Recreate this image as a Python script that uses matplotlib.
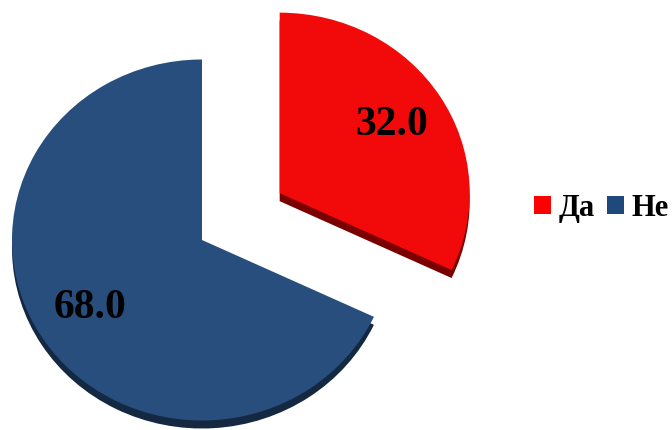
import matplotlib.pyplot as plt
from matplotlib.patches import Patch

labels = ['Да', 'Не']
values = [32.0, 68.0]
colors = ['#F20A0A', '#284E7E']
edge_colors = ['#7A0000', '#142842']
legend_colors = ['#FF0000', '#1F497D']

plt.rcParams['font.family'] = ['Liberation Serif', 'DejaVu Serif']

fig = plt.figure(figsize=(6.72, 4.3), dpi=100)
ax = fig.add_axes([0, 0, 1, 1])

# pixel-ish coordinates, y slightly squashed for a tilted look
squash = 0.95
ax.set_xlim(0, 672)
ax.set_ylim(0, 430 / squash)

cx, cy = 202, (430 - 240) / squash
radius = 190
# explode is in data units here, not in radii
explode = [92, 0]

# darker copy underneath gives the slab thickness
ax.pie(values, explode=explode, colors=edge_colors, startangle=90,
       counterclock=False, radius=radius, center=(cx, cy - 8 / squash),
       frame=True)

wedges, texts, autotexts = ax.pie(
    values, explode=explode, colors=colors, startangle=90,
    counterclock=False, radius=radius, center=(cx, cy),
    autopct='%.1f', pctdistance=0.7, frame=True,
    textprops=dict(fontsize=30, fontweight='bold', color='black'))

ax.set_aspect('auto')
ax.set_xlim(0, 672)
ax.set_ylim(0, 430 / squash)
ax.axis('off')

handles = [Patch(facecolor=c, edgecolor='none') for c in legend_colors]
fig.legend(handles, labels, loc='center left', bbox_to_anchor=(0.795, 0.515),
           ncol=2, frameon=False, handlelength=0.55, handleheight=0.55,
           handletextpad=0.25, columnspacing=0.4, borderpad=0, borderaxespad=0,
           prop=dict(size=22, weight='bold'))

fig.savefig('out.png', dpi=100)
